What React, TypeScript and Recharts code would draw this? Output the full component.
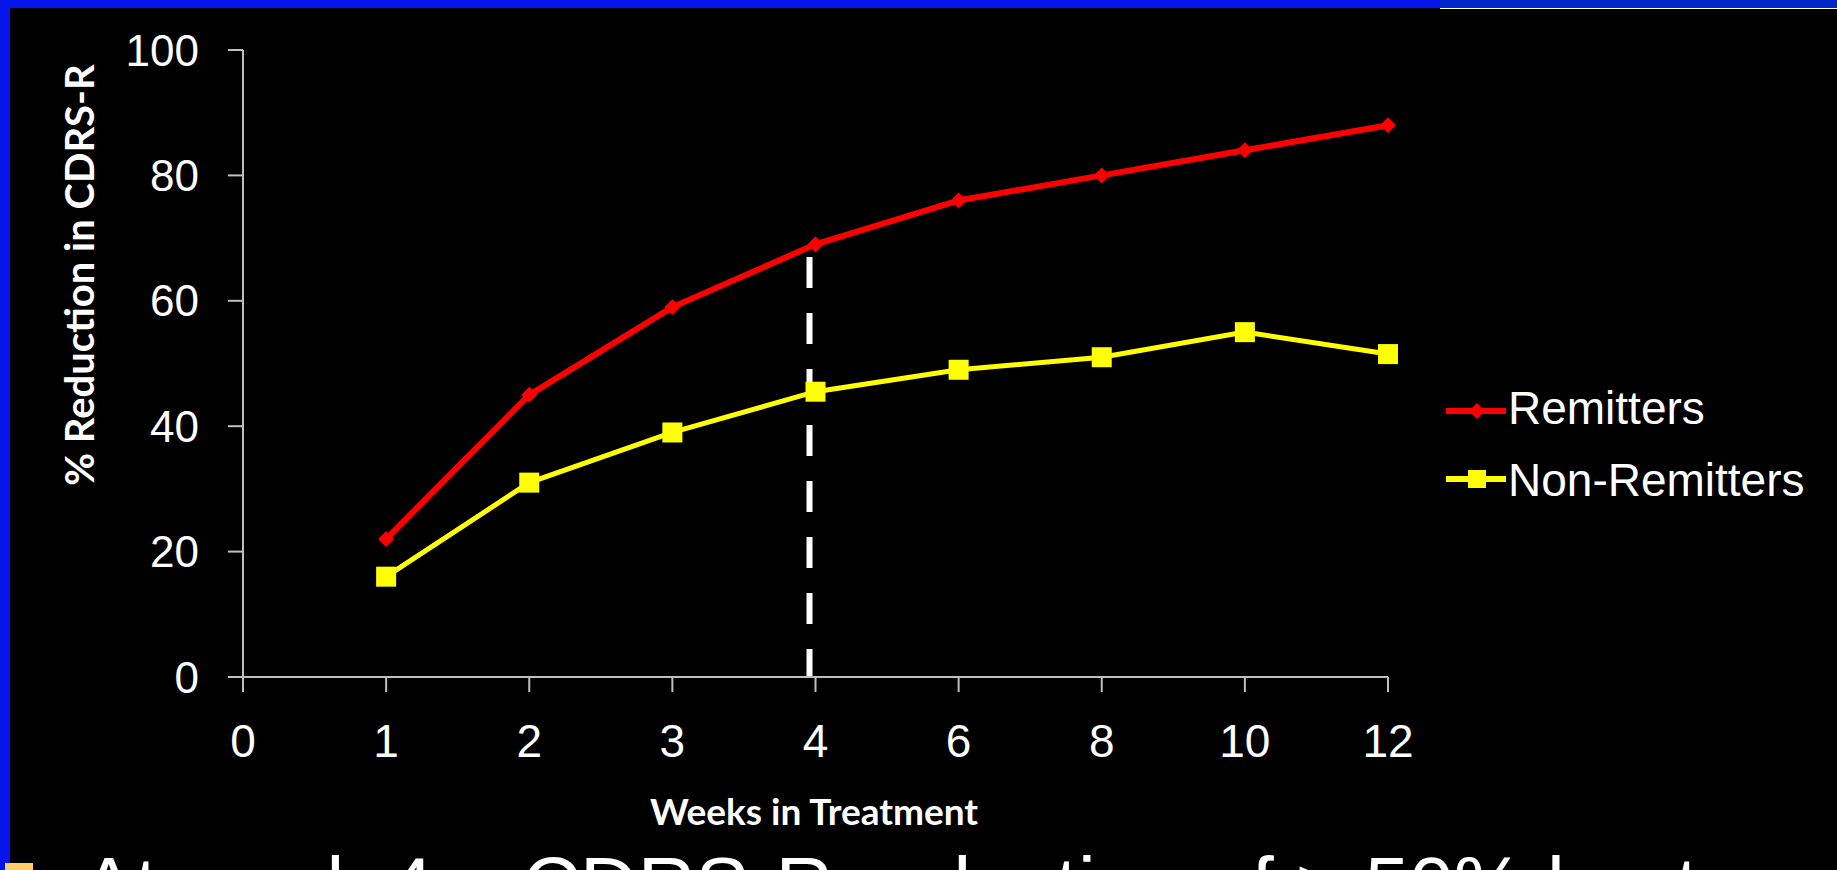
import React from 'react';
import { LineChart, Line, XAxis, YAxis, ReferenceLine, Label } from 'recharts';

// Weeks in treatment (category axis) and mean % reduction in CDRS-R per group
const weeks = ['0', '1', '2', '3', '4', '6', '8', '10', '12'];
const remitters: (number | null)[] = [null, 22, 45, 59, 69, 76, 80, 84, 88];
const nonRemitters: (number | null)[] = [null, 16, 31, 39, 45.5, 49, 51, 55, 51.5];
const yTicks = [0, 20, 40, 60, 80, 100];

// Week-4 cut-off marker, drawn from just under the remitter curve down to the axis
const cutoffWeek = '4';
const cutoffTop = 67;

const seriesNames = { remitters: 'Remitters', nonRemitters: 'Non-Remitters' };
const caption = 'At week 4 – CDRS-R reduction of > 50% best';

const data = weeks.map((week, i) => ({
  week,
  remitters: remitters[i],
  nonRemitters: nonRemitters[i],
}));

const RED = '#ff0000';
const YELLOW = '#ffff00';
const AXIS = '#bfbfbf';
const ARIAL = '"Liberation Sans", Arial, sans-serif';
const CALIBRI = 'Lato, "Open Sans", sans-serif';

const Diamond = (props: any) => {
  const { cx, cy } = props;
  if (cx == null || cy == null || props.value == null) return <g key={props.key} />;
  const r = 8;
  return (
    <polygon
      key={props.key}
      points={`${cx},${cy - r} ${cx + r},${cy} ${cx},${cy + r} ${cx - r},${cy}`}
      fill={RED}
    />
  );
};

const Square = (props: any) => {
  const { cx, cy } = props;
  if (cx == null || cy == null || props.value == null) return <g key={props.key} />;
  const s = 20;
  return <rect key={props.key} x={cx - s / 2} y={cy - s / 2} width={s} height={s} fill={YELLOW} />;
};

// Dashed cut-off drawn a few pixels left of the tick, as in the slide
const CutoffShape = (props: any) => {
  const { x1, y1, x2, y2 } = props;
  if (x1 == null) return <g />;
  return (
    <line
      x1={x1 - 6}
      y1={y1}
      x2={x2 - 6}
      y2={y2}
      stroke="#ffffff"
      strokeWidth={6}
      strokeDasharray="31 25"
    />
  );
};

// Series key at the right of the plot
const LegendBox = () => (
  <svg width={390} height={140} style={{ position: 'absolute', left: 1446, top: 384, display: 'block' }}>
    <line x1={0} y1={27} x2={60} y2={27} stroke={RED} strokeWidth={6} />
    <polygon points="31,19 39,27 31,35 23,27" fill={RED} />
    <text x={62} y={40} fill="#ffffff" fontSize={46} fontFamily={ARIAL}>
      {seriesNames.remitters}
    </text>
    <line x1={0} y1={95} x2={60} y2={95} stroke={YELLOW} strokeWidth={6} />
    <rect x={22} y={86} width={18} height={18} fill={YELLOW} />
    <text x={62} y={112} fill="#ffffff" fontSize={46} fontFamily={ARIAL}>
      {seriesNames.nonRemitters}
    </text>
  </svg>
);

export default function App() {
  return (
    <div
      style={{
        position: 'absolute',
        left: 0,
        top: 0,
        width: 1837,
        height: 870,
        background: '#000000',
        overflow: 'hidden',
      }}
    >
      {/* slide frame */}
      <div style={{ position: 'absolute', left: 0, top: 0, width: 1837, height: 8, background: '#0514e8' }} />
      <div style={{ position: 'absolute', left: 1440, top: 0, width: 397, height: 8, background: '#0028c8' }} />
      <div style={{ position: 'absolute', left: 1440, top: 8, width: 397, height: 1, background: '#ffffff' }} />
      <div style={{ position: 'absolute', left: 0, top: 0, width: 10, height: 870, background: '#0514e8' }} />

      <div style={{ position: 'absolute', left: 0, top: 0 }}>
        <LineChart width={1837} height={870} data={data} margin={{ top: 50, right: 449, bottom: 0, left: 0 }}>
          <XAxis
            dataKey="week"
            type="category"
            height={193}
            stroke={AXIS}
            strokeWidth={2}
            tickSize={15}
            tickMargin={32}
            tick={{ fill: '#ffffff', fontSize: 46, fontFamily: ARIAL }}
            tickLine={{ stroke: AXIS, strokeWidth: 2 }}
            interval={0}
          >
            <Label
              content={() => (
                <text x={814} y={825} textAnchor="middle" fill="#ffffff" fontSize={37} fontWeight={700} fontFamily={CALIBRI}>
                  Weeks in Treatment
                </text>
              )}
            />
          </XAxis>
          <YAxis
            width={243}
            domain={[0, 100]}
            ticks={yTicks}
            stroke={AXIS}
            strokeWidth={2}
            tickSize={15}
            tickMargin={29}
            tick={{ fill: '#ffffff', fontSize: 44, fontFamily: ARIAL }}
            tickLine={{ stroke: AXIS, strokeWidth: 2 }}
            interval={0}
          >
            <Label
              content={() => (
                <text
                  transform="translate(94,275) rotate(-90)"
                  textAnchor="middle"
                  fill="#ffffff"
                  fontSize={40}
                  fontWeight={700}
                  fontFamily={CALIBRI}
                >
                  % Reduction in CDRS-R
                </text>
              )}
            />
          </YAxis>
          <ReferenceLine
            segment={[
              { x: cutoffWeek, y: cutoffTop },
              { x: cutoffWeek, y: 0 },
            ]}
            shape={CutoffShape}
            ifOverflow="visible"
          />
          <Line
            type="linear"
            dataKey="remitters"
            name={seriesNames.remitters}
            stroke={RED}
            strokeWidth={6}
            dot={Diamond}
            activeDot={false}
            isAnimationActive={false}
          />
          <Line
            type="linear"
            dataKey="nonRemitters"
            name={seriesNames.nonRemitters}
            stroke={YELLOW}
            strokeWidth={5}
            dot={Square}
            activeDot={false}
            isAnimationActive={false}
          />
        </LineChart>
      </div>

      <LegendBox />

      {/* bullet caption below the chart, clipped by the slide edge */}
      <svg style={{ position: 'absolute', left: 0, top: 0 }} width={1837} height={870}>
        <rect x={5} y={863} width={28} height={28} fill="#ffcc66" />
        <text x={82} y={913} fill="#ffffff" fontSize={80} fontFamily={ARIAL}>
          {caption}
        </text>
      </svg>
    </div>
  );
}
